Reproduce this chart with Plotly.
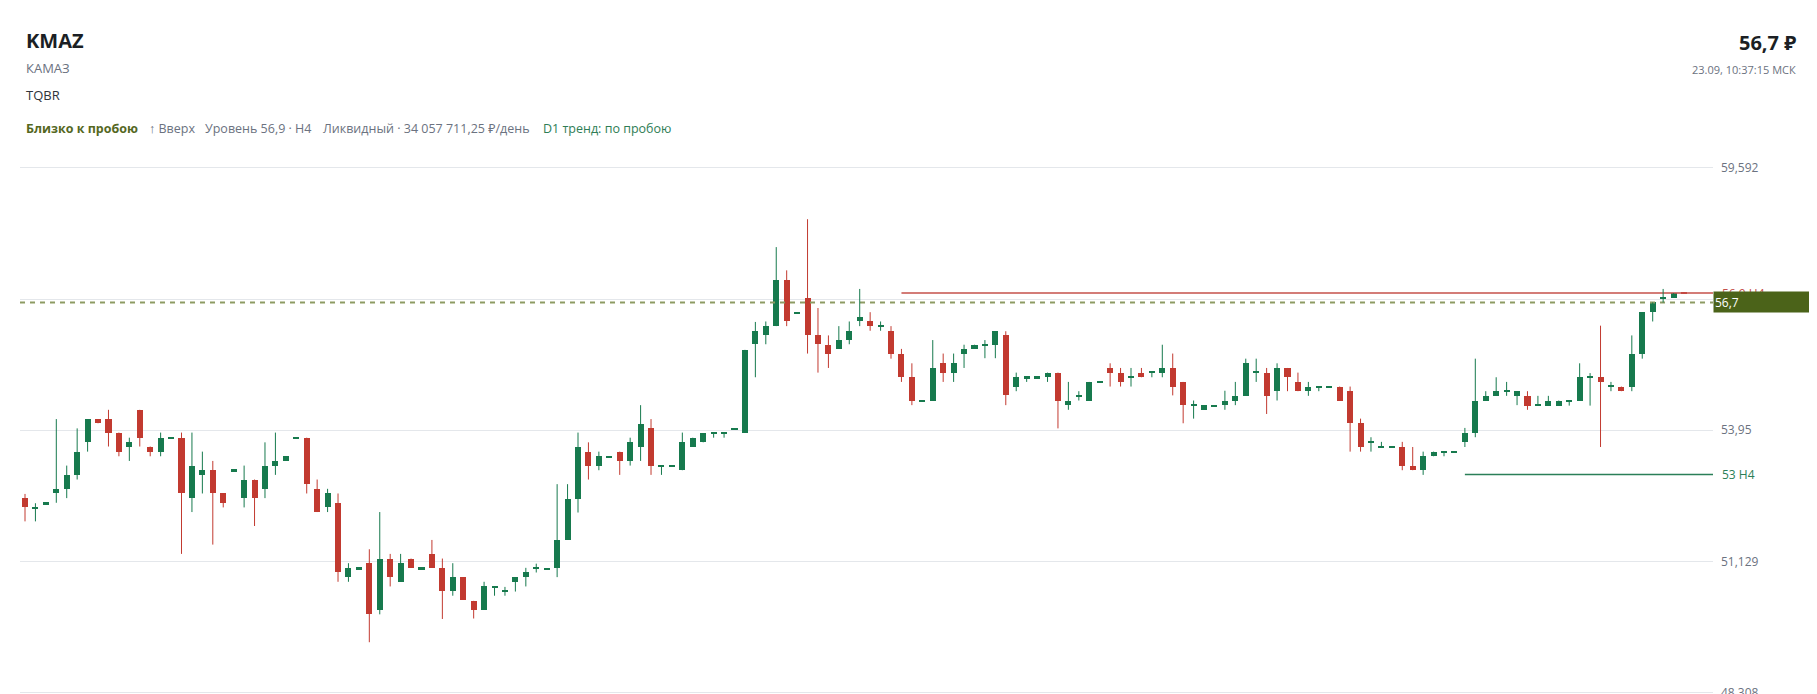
import plotly.graph_objects as go

# ---------------- data ----------------
OPEN = [
    52.49, 52.28, 52.37, 52.59, 52.69, 52.99, 53.69, 54.19, 54.19, 53.90,
    53.60, 54.39, 53.60, 53.49, 53.77, 53.79, 52.49, 52.99, 53.09, 52.59,
    53.08, 52.49, 52.89, 52.69, 53.19, 53.29, 53.77, 53.79, 52.69, 52.29,
    52.39, 50.79, 50.97, 51.09, 50.09, 51.19, 50.69, 51.19, 50.97, 51.29,
    50.99, 50.49, 50.79, 50.28, 50.09, 50.57, 50.48, 50.69, 50.79, 50.98,
    50.96, 50.99, 51.59, 52.48, 53.49, 53.19, 53.37, 53.49, 53.29, 53.59,
    53.99, 53.18, 53.18, 53.09, 53.59, 53.69, 53.88, 53.88, 53.97, 53.90,
    55.80, 55.99, 56.19, 57.19, 56.47, 56.79, 55.99, 55.79, 55.70, 55.89,
    56.29, 56.29, 56.18, 56.09, 55.60, 55.09, 54.57, 54.59, 55.39, 55.19,
    55.60, 55.70, 55.78, 55.79, 55.99, 54.89, 55.08, 55.08, 55.09, 55.19,
    54.49, 54.69, 54.59, 54.98, 55.29, 55.19, 55.09, 55.19, 55.19, 55.19,
    55.29, 54.99, 54.49, 54.39, 54.47, 54.49, 54.59, 54.69, 55.19, 55.19,
    54.79, 55.29, 54.99, 54.79, 54.88, 54.88, 54.89, 54.79, 54.10, 53.69,
    53.59, 53.58, 53.59, 53.19, 53.09, 53.39, 53.48, 53.48, 53.69, 53.89,
    54.59, 54.69, 54.78, 54.69, 54.69, 54.48, 54.48, 54.48, 54.58, 54.59,
    55.09, 55.09, 54.89, 54.89, 54.89, 55.59, 56.49, 56.79, 56.80, 56.91,
]
HIGH = [
    52.58, 52.38, 52.38, 54.19, 53.19, 53.99, 54.19, 54.19, 54.39, 53.90,
    53.79, 54.39, 53.60, 53.90, 53.78, 53.90, 53.90, 53.49, 53.29, 52.59,
    53.09, 53.19, 52.89, 53.69, 53.90, 53.39, 53.78, 53.79, 52.89, 52.69,
    52.59, 51.09, 50.98, 51.39, 52.19, 51.29, 51.29, 51.19, 50.98, 51.59,
    51.19, 51.09, 50.79, 50.28, 50.69, 50.58, 50.58, 50.79, 50.99, 51.08,
    50.97, 52.79, 52.79, 53.90, 53.69, 53.49, 53.38, 53.49, 53.79, 54.49,
    54.19, 53.19, 53.19, 53.90, 53.79, 53.89, 53.89, 53.89, 53.98, 55.68,
    56.28, 56.29, 57.89, 57.39, 56.48, 58.49, 56.58, 55.99, 56.19, 56.29,
    56.99, 56.49, 56.29, 56.19, 55.70, 55.39, 54.58, 55.89, 55.60, 55.60,
    55.79, 55.79, 55.89, 56.08, 56.08, 55.19, 55.09, 55.09, 55.19, 55.19,
    54.99, 54.79, 54.99, 54.99, 55.39, 55.29, 55.29, 55.29, 55.20, 55.79,
    55.60, 54.99, 54.59, 54.49, 54.48, 54.80, 54.99, 55.49, 55.49, 55.29,
    55.39, 55.29, 55.19, 54.99, 54.89, 54.89, 54.89, 54.89, 54.20, 53.80,
    53.70, 53.59, 53.70, 53.59, 53.49, 53.49, 53.49, 53.49, 54.00, 55.49,
    54.79, 55.09, 54.99, 54.79, 54.79, 54.69, 54.69, 54.59, 54.59, 55.39,
    55.18, 56.20, 54.99, 54.89, 55.99, 56.49, 56.70, 56.99, 56.90, 56.91,
]
LOW = [
    51.99, 51.99, 52.37, 52.39, 52.49, 52.89, 53.49, 54.10, 53.60, 53.39,
    53.29, 53.60, 53.39, 53.39, 53.77, 51.29, 52.19, 52.59, 51.49, 52.29,
    53.08, 52.29, 51.89, 52.49, 52.99, 53.29, 53.77, 52.59, 52.19, 52.19,
    50.69, 50.69, 50.97, 49.39, 49.99, 50.59, 50.69, 50.99, 50.97, 50.99,
    49.89, 50.39, 50.30, 49.90, 50.09, 50.39, 50.39, 50.48, 50.59, 50.89,
    50.96, 50.79, 51.59, 52.18, 52.89, 53.09, 53.37, 52.99, 53.19, 53.29,
    52.99, 52.99, 53.18, 53.09, 53.59, 53.69, 53.79, 53.79, 53.97, 53.90,
    55.09, 55.80, 56.19, 56.19, 56.47, 55.60, 55.19, 55.29, 55.70, 55.80,
    56.19, 56.09, 56.09, 55.49, 54.99, 54.49, 54.57, 54.59, 54.99, 54.99,
    55.29, 55.70, 55.50, 55.50, 54.49, 54.79, 54.99, 55.08, 54.99, 53.99,
    54.39, 54.59, 54.59, 54.98, 54.89, 54.89, 54.89, 55.09, 55.09, 55.09,
    54.70, 54.10, 54.20, 54.39, 54.47, 54.39, 54.49, 54.69, 54.99, 54.30,
    54.59, 54.79, 54.79, 54.69, 54.79, 54.88, 54.59, 53.49, 53.49, 53.49,
    53.59, 53.58, 53.09, 53.09, 52.99, 53.39, 53.39, 53.48, 53.59, 53.80,
    54.59, 54.69, 54.69, 54.49, 54.39, 54.48, 54.48, 54.48, 54.48, 54.59,
    54.48, 53.59, 54.79, 54.79, 54.79, 55.49, 56.29, 56.70, 56.80, 56.90,
]
CLOSE = [
    52.29, 52.29, 52.38, 52.69, 52.99, 53.49, 54.19, 54.10, 53.90, 53.49,
    53.69, 53.79, 53.49, 53.79, 53.78, 52.59, 53.19, 53.09, 52.59, 52.39,
    53.09, 52.89, 52.49, 53.19, 53.29, 53.39, 53.78, 52.79, 52.19, 52.59,
    50.89, 50.99, 50.98, 49.99, 51.19, 50.79, 51.09, 50.99, 50.98, 50.99,
    50.49, 50.79, 50.30, 50.09, 50.59, 50.58, 50.49, 50.79, 50.89, 50.99,
    50.97, 51.59, 52.48, 53.59, 53.19, 53.39, 53.38, 53.29, 53.69, 54.09,
    53.19, 53.19, 53.19, 53.69, 53.79, 53.89, 53.89, 53.89, 53.98, 55.68,
    56.08, 56.19, 57.19, 56.30, 56.48, 55.99, 55.80, 55.60, 55.89, 56.08,
    56.39, 56.19, 56.19, 55.60, 55.09, 54.59, 54.58, 55.29, 55.19, 55.39,
    55.69, 55.79, 55.79, 56.08, 54.70, 55.09, 55.09, 55.09, 55.19, 54.59,
    54.59, 54.70, 54.99, 54.99, 55.19, 54.99, 55.10, 55.09, 55.20, 55.29,
    54.89, 54.49, 54.50, 54.49, 54.48, 54.59, 54.69, 55.39, 55.20, 54.69,
    55.29, 55.09, 54.79, 54.89, 54.89, 54.89, 54.59, 54.10, 53.59, 53.70,
    53.60, 53.59, 53.19, 53.09, 53.39, 53.49, 53.49, 53.49, 53.89, 54.59,
    54.69, 54.79, 54.79, 54.79, 54.48, 54.49, 54.59, 54.59, 54.59, 55.09,
    55.10, 54.99, 54.90, 54.79, 55.59, 56.49, 56.70, 56.80, 56.90, 56.90,
]
TICK_VALUES = [48.308, 51.129, 53.95, 56.771, 59.592]
TICK_LABELS = ["48,308", "51,129", "53,95", "", "59,592"]
Y_RANGE = [48.276, 59.979]
LAST_PRICE = 56.7
LAST_PRICE_LABEL = "56,7"
RES_LEVEL, RES_FROM, RES_LABEL = 56.9, 84, "56,9 H4"
SUP_LEVEL, SUP_FROM, SUP_LABEL = 53.0, 138, "53 H4"

# ---------------- styling ----------------
# The page body has an 8px default margin, so the figure is offset by 8px.
OFF = 8
W, H = 1817 - OFF, 694 - OFF
PLOT_L, PLOT_R, PLOT_T = 20, 1713, 150      # positions in window pixels
GREEN = "#177a4e"
RED = "#c23a30"
GRID = "#e4e7eb"
FONT = "Segoe UI, Open Sans, Noto Sans, sans-serif"


def fx(px):
    return (px - OFF) / W


def fy(py):
    return 1 - (py - OFF) / H


N = len(OPEN)
idx = list(range(N))
X_RANGE = [-0.479, 161.78]
up = [c >= o for o, c in zip(OPEN, CLOSE)]
colors = [GREEN if u else RED for u in up]

MIN_BODY = 0.045
bases, heights = [], []
for o, c in zip(OPEN, CLOSE):
    lo, hi = min(o, c), max(o, c)
    if hi - lo < MIN_BODY:
        mid = (hi + lo) / 2
        lo, hi = mid - MIN_BODY / 2, mid + MIN_BODY / 2
    bases.append(lo)
    heights.append(hi - lo)


def wicks(mask):
    xs, ys = [], []
    for i in idx:
        if mask[i]:
            xs += [i, i, None]
            ys += [LOW[i], HIGH[i], None]
    return xs, ys


fig = go.Figure()

# level lines + last price line (behind candles)
fig.add_trace(go.Scatter(x=[X_RANGE[0], X_RANGE[1]], y=[LAST_PRICE, LAST_PRICE],
                         mode="lines", line=dict(color="#8d9b63", width=2, dash="5px,5px"),
                         hoverinfo="skip"))
fig.add_trace(go.Scatter(x=[RES_FROM, X_RANGE[1]], y=[RES_LEVEL, RES_LEVEL],
                         mode="lines", line=dict(color="#c4504a", width=1.5), hoverinfo="skip"))
fig.add_trace(go.Scatter(x=[SUP_FROM, X_RANGE[1]], y=[SUP_LEVEL, SUP_LEVEL],
                         mode="lines", line=dict(color="#2b7f58", width=1.5), hoverinfo="skip"))

gx, gy = wicks(up)
rx, ry = wicks([not u for u in up])
fig.add_trace(go.Scatter(x=gx, y=gy, mode="lines", line=dict(color=GREEN, width=1),
                         hoverinfo="skip", connectgaps=False))
fig.add_trace(go.Scatter(x=rx, y=ry, mode="lines", line=dict(color=RED, width=1),
                         hoverinfo="skip", connectgaps=False))
fig.add_trace(go.Bar(x=idx, y=heights, base=bases, width=0.58,
                     marker=dict(color=colors, line=dict(width=0)), hoverinfo="skip"))

# card background (rounded rectangle)
cx0, cx1, cy0, r = 4, 1813, 5, 12
path = (f"M {fx(cx0 + r)},{fy(cy0)} L {fx(cx1 - r)},{fy(cy0)} "
        f"Q {fx(cx1)},{fy(cy0)} {fx(cx1)},{fy(cy0 + r)} L {fx(cx1)},{fy(720)} "
        f"L {fx(cx0)},{fy(720)} L {fx(cx0)},{fy(cy0 + r)} "
        f"Q {fx(cx0)},{fy(cy0)} {fx(cx0 + r)},{fy(cy0)} Z")
shapes = [dict(type="path", path=path, xref="paper", yref="paper", layer="below",
               fillcolor="white", line=dict(color="#e3e6ea", width=1))]

ann = []


def text(t, x, y, size, color, anchor="left"):
    ann.append(dict(text=t, x=fx(x), y=fy(y), xref="paper", yref="paper",
                    xanchor=anchor, yanchor="middle", showarrow=False,
                    font=dict(family=FONT, size=size, color=color)))


text("<b>KMAZ</b>", 24, 41, 20, "#1b1f24")
text("КАМАЗ", 24, 68, 13, "#6b7280")
text("TQBR", 24, 95, 13, "#2f343b")
text("<b>Близко к пробою</b>", 24, 129, 12.5, "#55681f")
text("↑ Вверх", 147, 129, 12.5, "#6b7280")
text("Уровень 56,9 · H4", 203, 129, 12.5, "#6b7280")
text("Ликвидный · 34 057 711,25 ₽/день", 321, 129, 12.5, "#6b7280")
text("D1 тренд: по пробою", 541, 129, 12.5, "#2e7d55")
text("<b>56,7 ₽</b>", 1798, 42, 20, "#1b1f24", anchor="right")
text("23.09, 10:37:15 МСК", 1798, 70, 11, "#6b7280", anchor="right")

# level labels on the price scale
ann.append(dict(text=RES_LABEL, x=fx(PLOT_R + 7), y=RES_LEVEL, xref="paper", yref="y",
                xanchor="left", yanchor="middle", showarrow=False,
                font=dict(family=FONT, size=12, color="#c4504a")))
ann.append(dict(text=SUP_LABEL, x=fx(PLOT_R + 7), y=SUP_LEVEL, xref="paper", yref="y",
                xanchor="left", yanchor="middle", showarrow=False,
                font=dict(family=FONT, size=12, color="#2b7f58")))
ann.append(dict(text=LAST_PRICE_LABEL, x=fx(PLOT_R), y=LAST_PRICE, xref="paper", yref="y",
                xanchor="left", yanchor="middle", showarrow=False, align="left",
                width=100, height=18, borderpad=1, bgcolor="#4b6319",
                font=dict(family=FONT, size=12, color="white")))

fig.update_layout(
    width=W, height=H,
    margin=dict(l=0, r=0, t=0, b=0, autoexpand=False),
    paper_bgcolor="#f3f4f6",
    plot_bgcolor="rgba(0,0,0,0)",
    showlegend=False,
    hovermode=False,
    bargap=0,
    shapes=shapes,
    annotations=ann,
    xaxis=dict(domain=[fx(PLOT_L), fx(PLOT_R)], range=X_RANGE, visible=False,
               fixedrange=True, automargin=False),
    yaxis=dict(domain=[0, fy(PLOT_T)], range=Y_RANGE, side="right",
               tickvals=TICK_VALUES, ticktext=TICK_LABELS, showgrid=True,
               gridcolor=GRID, gridwidth=1, zeroline=False, showline=False,
               ticks="", ticklabelstandoff=7, ticklabeloverflow="allow",
               automargin=False, fixedrange=True,
               tickfont=dict(family=FONT, size=12, color="#6b7280")),
)

fig.write_html("out.html", config={"displayModeBar": False})
